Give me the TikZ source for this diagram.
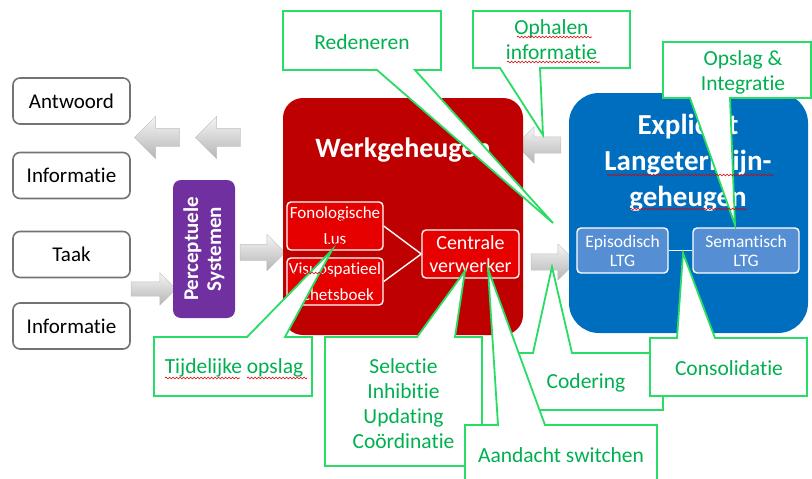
\documentclass[tikz,border=0pt]{standalone}
\usepackage{fontspec}
\setmainfont{Carlito}[Ligatures=NoCommon]
\usetikzlibrary{shapes.arrows,decorations.pathmorphing}

\definecolor{wgred}{RGB}{190,0,0}
\definecolor{subred}{RGB}{230,0,0}
\definecolor{ltgblue}{RGB}{0,110,190}
\definecolor{subblue}{RGB}{86,142,212}
\definecolor{percpurple}{RGB}{112,48,160}
\definecolor{callgreen}{RGB}{40,220,100}
\definecolor{calltext}{RGB}{0,176,80}
\definecolor{boxgray}{RGB}{115,115,115}

\begin{document}
\begin{tikzpicture}[
  x=1pt, y=-1pt,
  side/.style={draw=boxgray, line width=1.6pt, rounded corners=7pt, fill=white,
    minimum width=117pt, minimum height=46pt, font=\fontsize{21}{24}\selectfont},
  garrow/.style={single arrow, single arrow head extend=10pt, inner xsep=0pt, inner ysep=8pt,
    minimum height=45pt, draw=gray!50, top color=gray!8, bottom color=gray!58},
  bigbox/.style={rounded corners=20pt, inner sep=0pt},
  title/.style={text=white, align=center, font=\fontsize{28}{36}\bfseries\selectfont},
  subbox/.style={draw=white, line width=1.4pt, rounded corners=4pt, text=white, align=center,
    inner sep=0pt},
  link/.style={draw=white, line width=1.4pt},
  callout/.style={fill=white, draw=callgreen, line width=1.8pt, line join=miter},
  calltxt/.style={text=calltext, align=center, font=\fontsize{21.5}{25}\selectfont},
  spell/.style={draw=red!85!black, line width=0.6pt, decorate,
    decoration={snake, amplitude=0.9pt, segment length=3.5pt}}
]
\useasboundingbox (0,0) rectangle (812,479);

% left column
\node[side] (antwoord) at (71.5,101) {Antwoord};
\node[side] (info1) at (71.5,175.5) {Informatie};
\node[side] (taak) at (71.5,254.5) {Taak};
\node[side] (info2) at (71.5,326) {Informatie};

% block arrows
\node[garrow, shape border rotate=180, single arrow head extend=12pt, inner ysep=9pt] (uit1) at (161.5,137.5) {};
\node[garrow, shape border rotate=180, single arrow head extend=12pt, inner ysep=9pt] (uit2) at (222.5,137.5) {};
\node[garrow, single arrow head extend=9pt, inner ysep=7pt] (in1) at (150,289) {};
\node[garrow] (in2) at (258.5,252.5) {};
\node[garrow, shape border rotate=180] (terug) at (542.5,145) {};
\node[garrow] (heen) at (549.5,262) {};

% perceptual systems
\node[fill=percpurple, rounded corners=8pt, rotate=90, minimum width=138pt, minimum height=62pt,
  text=white, align=center, font=\fontsize{21}{23}\bfseries\selectfont] (perc) at (204,249)
  {Perceptuele\\Systemen};

% working memory
\node[bigbox, fill=wgred, minimum width=240pt, minimum height=237pt] (werk) at (403,216.5) {};
\node[title] (werktitle) at (403,150) {Werkgeheugen};
\node[subbox, fill=subred, minimum width=96pt, minimum height=48pt,
  font=\fontsize{17}{26}\selectfont] (fon) at (335,226) {Fonologische\\Lus};
\node[subbox, fill=subred, minimum width=96pt, minimum height=47pt,
  font=\fontsize{17}{26}\selectfont] (visuo) at (335,281.5) {Visuospatieel\\schetsboek};
\node[subbox, fill=subred, minimum width=97pt, minimum height=48pt,
  font=\fontsize{20}{23}\selectfont] (centraal) at (470.5,254) {Centrale\\verwerker};
\draw[link] (fon.east) -- (centraal.west);
\draw[link] (visuo.east) -- (centraal.west);

% explicit long-term memory
\node[bigbox, rounded corners=30pt, fill=ltgblue, minimum width=239pt, minimum height=240pt] (ltg) at (688.5,213) {};
\node[title, font=\fontsize{29}{36}\bfseries\selectfont] (ltgtitle) at (688,163) {Expliciet\\Langetermijn-\\geheugen};
\node[subbox, fill=subblue, minimum width=91pt, minimum height=45pt,
  font=\fontsize{17.5}{19}\selectfont] (episod) at (622.5,250.5) {Episodisch\\LTG};
\node[subbox, fill=subblue, minimum width=106pt, minimum height=45pt,
  font=\fontsize{17.5}{19}\selectfont] (semant) at (746,250.5) {Semantisch\\LTG};
\draw[link] (episod.east) -- (semant.west);

% callouts
\coordinate (pLus) at (332,250);
\path[callout] (154,337) -- (247,337) -- (pLus) -- (285,337) -- (312,337) -- (312,396) -- (154,396) -- cycle;
\node[calltxt] (opslag) at (234,368) {Tijdelijke opslag};

\coordinate (pCv1) at (465,271);
\path[callout] (325,337) -- (417,337) -- (pCv1) -- (455,337) -- (482,337) -- (482,466) -- (325,466) -- cycle;
\node[calltxt] (functies) at (403.5,403.5) {Selectie\\Inhibitie\\Updating\\Coördinatie};

\coordinate (pCod) at (552,267);
\path[callout] (505,353) -- (533,353) -- (pCod) -- (572,353) -- (663,353) -- (663,410) -- (505,410) -- cycle;
\node[calltxt] (codering) at (586,383) {Codering};

\coordinate (pCv2) at (488,269);
\path[callout] (465,425) -- (498,425) -- (pCv2) -- (545,425) -- (657,425) -- (657,500) -- (465,500) -- cycle;
\node[calltxt] (aandacht) at (561,455) {Aandacht switchen};

\coordinate (pCons) at (683,253);
\path[callout] (650,338) -- (677,338) -- (pCons) -- (715,338) -- (807,338) -- (807,396) -- (650,396) -- cycle;
\node[calltxt] (consolidatie) at (729,368) {Consolidatie};

\coordinate (pRed) at (553,223);
\path[callout] (283,11) -- (441,11) -- (441,70) -- (415,70) -- (pRed) -- (377,70) -- (283,70) -- cycle;
\node[calltxt] (redeneren) at (362,42) {Redeneren};

\coordinate (pOph) at (543,135);
\path[callout] (473,11) -- (630,11) -- (630,68) -- (540,68) -- (pOph) -- (500,68) -- (473,68) -- cycle;
\node[calltxt] (ophalen) at (551.5,40) {Ophalen\\informatie};

\coordinate (pSem) at (735,225);
\path[callout] (663,42) -- (811,42) -- (811,98) -- (730,98) -- (pSem) -- (690,98) -- (663,98) -- cycle;
\node[calltxt] (integratie) at (743,72) {Opslag \&\\Integratie};

% spelling marks
\draw[spell] (517,37) -- (592,37);
\draw[spell] (507,62) -- (600,62);
\draw[spell] (607,175) -- (773,175);
\draw[spell] (630,209) -- (747,209);
\draw[spell] (290,220) -- (380,220);
\draw[spell] (323,244) -- (347,244);
\draw[spell] (290,273) -- (330,273);
\draw[spell] (165,378) -- (240,378);
\draw[spell] (247,378) -- (307,378);
\end{tikzpicture}
\end{document}
